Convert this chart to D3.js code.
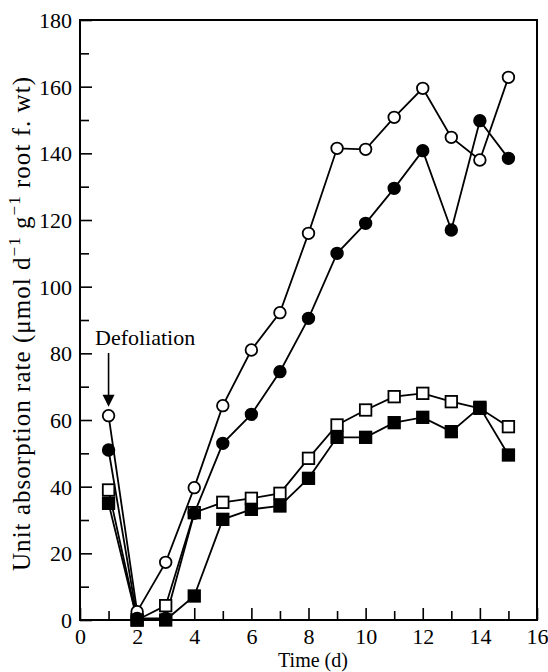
<!DOCTYPE html>
<html>
<head>
<meta charset="utf-8">
<script src="https://cdn.jsdelivr.net/npm/d3@7"></script>
<style>
  html, body { margin: 0; padding: 0; background: #fff; }
  svg { display: block; }
  text { font-family: "Liberation Serif", "Times New Roman", serif; fill: #000; }
</style>
</head>
<body>
<svg id="chart" width="548" height="672"></svg>
<script>
// Days after start of measurement
const days = [1, 2, 3, 4, 5, 6, 7, 8, 9, 10, 11, 12, 13, 14, 15];

// Unit absorption rate, µmol d-1 g-1 root fresh weight
const openCircle   = [61.3, 2.5, 17.3, 39.7, 64.3, 81, 92.2, 116, 141.5, 141.2, 150.8, 159.5, 144.8, 138, 162.8];
const filledCircle = [51, 0.5, 0.5, 32, 53, 61.7, 74.5, 90.5, 110, 119, 129.5, 140.8, 117, 149.8, 138.5];
const openSquare   = [39, 0, 4.3, 32.2, 35.3, 36.5, 38, 48.5, 58.5, 63, 67, 68, 65.5, 63.5, 58];
const filledSquare = [35, 0, 0, 7.2, 30.2, 33.2, 34.2, 42.5, 54.8, 54.8, 59.2, 60.8, 56.5, 63.8, 49.5];

const xTicks = [0, 2, 4, 6, 8, 10, 12, 14, 16];
const yTicks = [0, 20, 40, 60, 80, 100, 120, 140, 160, 180];

const svg = d3.select("#chart");
const margin = { left: 80, right: 11, top: 20, bottom: 52 };
const W = 548, H = 672;

const x = d3.scaleLinear().domain([0, 16]).range([margin.left, W - margin.right]);
const y = d3.scaleLinear().domain([0, 180]).range([H - margin.bottom, margin.top]);

// Frame
svg.append("rect")
  .attr("x", x(0)).attr("y", y(180))
  .attr("width", x(16) - x(0)).attr("height", y(0) - y(180))
  .attr("fill", "none").attr("stroke", "#000").attr("stroke-width", 2);

// Inward ticks: majors labelled, minors between
const tickStroke = 1.6;
const xAxis = d3.axisBottom(x).tickValues(xTicks).tickSize(-12).tickPadding(0).tickFormat(d3.format("d"));
const gx = svg.append("g").attr("transform", `translate(0,${y(0)})`).call(xAxis);
const xMinor = d3.axisBottom(x).tickValues(d3.range(1, 16, 2)).tickSize(-9).tickFormat("");
const gxm = svg.append("g").attr("transform", `translate(0,${y(0)})`).call(xMinor);

const yAxis = d3.axisLeft(y).tickValues(yTicks).tickSize(-12).tickPadding(8).tickFormat(d3.format("d"));
const gy = svg.append("g").attr("transform", `translate(${x(0)},0)`).call(yAxis);
const yMinor = d3.axisLeft(y).tickValues(d3.range(10, 180, 20)).tickSize(-9).tickFormat("");
const gym = svg.append("g").attr("transform", `translate(${x(0)},0)`).call(yMinor);

[gx, gxm, gy, gym].forEach(g => {
  g.attr("font-family", "Liberation Serif, serif");
  g.select(".domain").remove();
  g.selectAll(".tick line").attr("stroke", "#000").attr("stroke-width", tickStroke);
  g.selectAll(".tick text").style("font-family", "'Liberation Serif', serif").style("font-size", "22px").attr("fill", "#000");
});
gx.selectAll(".tick text").attr("y", 24).attr("dy", null);
gy.selectAll(".tick text").attr("dy", "0.34em");

// Axis titles
svg.append("text")
  .attr("x", 313).attr("y", 667)
  .attr("text-anchor", "middle")
  .style("font-size", "20px")
  .text("Time (d)");

const yl = svg.append("text")
  .attr("transform", `translate(30,${324}) rotate(-90)`)
  .attr("text-anchor", "middle")
  .attr("textLength", 494)
  .attr("lengthAdjust", "spacing")
  .style("font-size", "25px");
yl.append("tspan").text("Unit absorption rate (\u03bcmol d");
yl.append("tspan").attr("dy", -10).style("font-size", "17px").text("\u22121");
yl.append("tspan").attr("dy", 10).text(" g");
yl.append("tspan").attr("dy", -10).style("font-size", "17px").text("\u22121");
yl.append("tspan").attr("dy", 10).text(" root f. wt)");

// Series
const series = [
  { values: openSquare,   shape: "square", fill: "#fff" },
  { values: filledSquare, shape: "square", fill: "#000" },
  { values: openCircle,   shape: "circle", fill: "#fff" },
  { values: filledCircle, shape: "circle", fill: "#000" }
];

const line = d3.line().x(d => x(d.t)).y(d => y(d.v));

series.forEach(s => {
  const pts = days.map((t, i) => ({ t, v: s.values[i] }));
  svg.append("path").datum(pts)
    .attr("d", line)
    .attr("fill", "none").attr("stroke", "#000").attr("stroke-width", 1.8);
});

series.forEach(s => {
  const pts = days.map((t, i) => ({ t, v: s.values[i] }));
  const g = svg.append("g");
  if (s.shape === "circle") {
    g.selectAll("circle").data(pts).join("circle")
      .attr("cx", d => x(d.t)).attr("cy", d => y(d.v)).attr("r", 5.8)
      .attr("fill", s.fill).attr("stroke", "#000").attr("stroke-width", 1.8);
  } else {
    const sz = 11.5;
    g.selectAll("rect").data(pts).join("rect")
      .attr("x", d => x(d.t) - sz / 2).attr("y", d => y(d.v) - sz / 2)
      .attr("width", sz).attr("height", sz)
      .attr("fill", s.fill).attr("stroke", "#000").attr("stroke-width", 1.8);
  }
});

// Defoliation annotation with arrow down to the first reading
const ax = x(1);
const tipY = y(openCircle[0]) - 9;
svg.append("text")
  .attr("x", 95).attr("y", 345)
  .style("font-size", "22px")
  .text("Defoliation");
svg.append("line")
  .attr("x1", ax).attr("x2", ax)
  .attr("y1", 353).attr("y2", tipY - 10)
  .attr("stroke", "#000").attr("stroke-width", 1.6);
svg.append("path")
  .attr("d", `M${ax - 6},${tipY - 12} L${ax + 6},${tipY - 12} L${ax},${tipY} Z`)
  .attr("fill", "#000");
</script>
</body>
</html>
